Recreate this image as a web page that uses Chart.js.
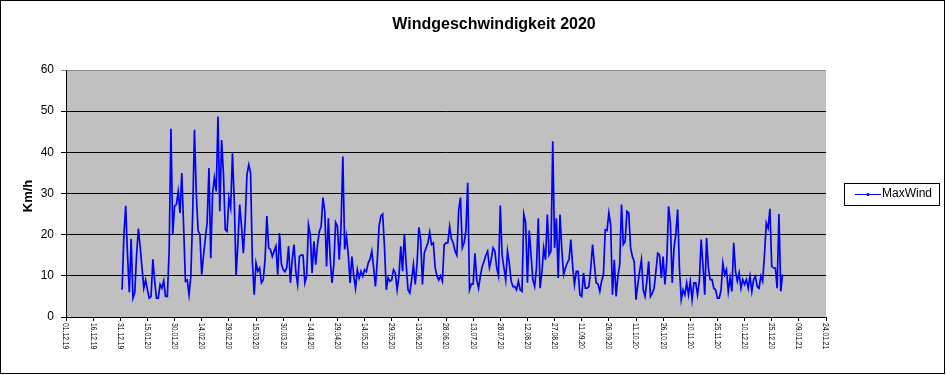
<!DOCTYPE html>
<html>
<head>
<meta charset="utf-8">
<title>Windgeschwindigkeit 2020</title>
<script src="https://cdn.jsdelivr.net/npm/chart.js@4/dist/chart.umd.min.js"></script>
<style>
  html, body { margin: 0; padding: 0; background: #fff; }
  #wrap { width: 946px; height: 375px; }
</style>
</head>
<body>
<div id="wrap"><canvas id="grafico" width="946" height="375"></canvas></div>
<script>
const TITEL = "Windgeschwindigkeit 2020";
const SERIE = "MaxWind";
const Y_TITEL = "Km/h";

// x-Achse: Tage seit 01.12.19, alle 15 Tage ein Strich
const TICK_LABELS = [
  "01.12.19", "16.12.19", "31.12.19", "15.01.20", "30.01.20", "14.02.20",
  "29.02.20", "15.03.20", "30.03.20", "14.04.20", "29.04.20", "14.05.20",
  "29.05.20", "13.06.20", "28.06.20", "13.07.20", "28.07.20", "12.08.20",
  "27.08.20", "11.09.20", "26.09.20", "11.10.20", "26.10.20", "10.11.20",
  "25.11.20", "10.12.20", "25.12.20", "09.01.21", "24.01.21"
];
const TICK_STEP = 15;
const ERSTER_TAG = 31; // 01.01.20

const Y_MIN = 0;
const Y_MAX = 60;
const Y_STEP = 10;

// Tagesmaximum Wind 2020 (km/h), 01.01. bis 31.12.
const MAX_WIND = [
  6.6, 20, 27, 15, 6, 19, 4.6, 6, 15, 21.5,
  17, 12, 7, 9, 6.6, 4.6, 5, 14, 8.7, 4.6,
  4.6, 7.9, 7, 8.8, 5, 5, 16, 45.7, 20, 27,
  27.3, 30.5, 25.3, 35, 22, 8.7, 9, 5.4, 10, 25,
  45.5, 30, 21, 20, 10.3, 15, 19, 23, 36.2, 14.3,
  30, 33.8, 30.5, 48.7, 25.7, 43, 35, 21.2, 20.8, 28.9,
  26.5, 39.8, 28, 10, 18, 27.3, 22, 15.5, 23, 34.6,
  37, 35, 13.5, 5.4, 13.1, 11.1, 11.9, 8.3, 9, 14,
  24.5, 16.8, 16.4, 14.7, 16, 17.2, 10.3, 20.4, 13, 11.5,
  11, 12, 17.2, 8.3, 14, 17.6, 11, 7.9, 14.7, 15.1,
  15, 8.3, 10, 22.4, 20, 10.7, 18.4, 12.7, 17.6, 20.8,
  22, 29, 25.7, 12.3, 24, 14.3, 8.3, 12.7, 23, 22,
  13.9, 22, 39, 16.4, 19.6, 15.1, 8.3, 14.7, 10, 7,
  11.5, 9.5, 11.1, 9.9, 11.5, 11, 13.1, 14, 16, 12,
  7.4, 13.5, 22, 24.5, 25, 17, 6.6, 9.5, 8.7, 9,
  11.5, 10.7, 6.6, 10, 17.2, 11.1, 20.2, 12.7, 6.6, 5.8,
  9, 12.7, 7.9, 13, 21.8, 18.8, 7.9, 15.5, 16.8, 18,
  20.6, 17.6, 18, 12, 9.9, 9, 10, 8.7, 17.6, 18,
  18, 22, 19, 18, 16, 15, 26, 29, 16.8, 18,
  21, 32.6, 6.6, 8, 8, 15.5, 9, 7, 10, 12.3,
  13.5, 15, 16, 12, 14, 16.8, 16, 12, 10, 27.1,
  15, 12, 9, 16, 13, 8.7, 7.4, 7.4, 6.6, 8.7,
  6.6, 6.2, 25, 23, 8.3, 21, 15, 9, 7.4, 12,
  24, 7, 11, 16.8, 13.9, 24.9, 15.1, 16, 42.7, 16.8,
  24, 9.5, 24.9, 16.4, 10.3, 11.9, 13.1, 14, 18.8, 12.3,
  7.9, 11.1, 11.1, 5.4, 5, 10.7, 7, 7, 7.4, 11.9,
  17.6, 12.7, 8.3, 8, 6.2, 8.7, 10.3, 21.2, 21, 25.3,
  22.4, 5.4, 13.9, 5, 9.9, 12.7, 27.3, 17.6, 18.4, 25.7,
  25.3, 16.8, 14.7, 13.5, 4.2, 8, 11.1, 13.9, 6.6, 5,
  8.7, 13.5, 5, 5.8, 7, 11.1, 15.5, 15.1, 9.5, 14.7,
  7.9, 13.5, 26.9, 22.8, 8.3, 16.8, 20, 26.1, 11.9, 4.2,
  6.6, 5.4, 8.3, 5.4, 8.7, 4.2, 8.3, 8.3, 5.4, 8.7,
  18.8, 12.7, 5.4, 19.2, 11.9, 9.1, 9.1, 7, 6.6, 4.6,
  4.6, 6.5, 13.1, 10.3, 11.5, 6.2, 9.5, 6.2, 18, 11.1,
  8.7, 10.7, 7, 9.1, 7.9, 9.1, 7, 9.9, 6.2, 9.1,
  9.9, 7.4, 7, 9.9, 8.7, 15.1, 22.8, 21.6, 26.3, 12.3,
  11.9, 11.9, 7, 25, 6.2, 10.3
];

const FONT = "Arial, 'Liberation Sans', sans-serif";
const BLAU = "#0000ff";

const punkte = MAX_WIND.map((v, i) => ({ x: ERSTER_TAG + i, y: v }));

// Hintergrund, Titel, gedrehte Datumsbeschriftung, Legende, Rahmen
const excelLook = {
  id: "excelLook",
  beforeDraw(chart) {
    const { ctx, chartArea: a } = chart;
    ctx.save();
    ctx.fillStyle = "#fff";
    ctx.fillRect(0, 0, chart.width, chart.height);
    ctx.fillStyle = "#c0c0c0";
    ctx.fillRect(a.left, a.top, a.right - a.left, a.bottom - a.top);
    ctx.restore();
  },
  afterDraw(chart) {
    const { ctx, chartArea: a } = chart;
    const xs = chart.scales.x;
    ctx.save();
    ctx.fillStyle = "#000";

    // Titel
    ctx.font = "bold 16px " + FONT;
    ctx.textAlign = "center";
    ctx.textBaseline = "middle";
    ctx.fillText(TITEL, 494, 25);

    // y-Achsentitel
    ctx.save();
    ctx.translate(28, 196);
    ctx.rotate(-Math.PI / 2);
    ctx.font = "bold 13px " + FONT;
    ctx.fillText(Y_TITEL, 0, 0);
    ctx.restore();

    // Datumsbeschriftung, von oben nach unten lesbar
    ctx.font = "9.5px " + FONT;
    ctx.textAlign = "left";
    ctx.textBaseline = "middle";
    xs.ticks.forEach((t, i) => {
      const px = xs.getPixelForTick(i);
      ctx.save();
      ctx.translate(px, a.bottom + 6);
      ctx.rotate(Math.PI / 2);
      ctx.scale(0.71, 1);
      ctx.fillText(TICK_LABELS[i], 0, 0);
      ctx.restore();
    });

    // Legende
    const ds = chart.data.datasets[0];
    ctx.fillStyle = "#fff";
    ctx.fillRect(845, 184, 94, 21);
    ctx.strokeStyle = "#000";
    ctx.lineWidth = 1;
    ctx.strokeRect(844.5, 183.5, 95, 22);
    ctx.strokeStyle = ds.borderColor;
    ctx.beginPath();
    ctx.moveTo(855, 194.5);
    ctx.lineTo(881, 194.5);
    ctx.stroke();
    ctx.fillStyle = ds.borderColor;
    ctx.beginPath();
    ctx.arc(868, 194.5, 1.5, 0, Math.PI * 2);
    ctx.fill();
    ctx.fillStyle = "#000";
    ctx.font = "12px " + FONT;
    ctx.textAlign = "left";
    ctx.fillText(ds.label, 882, 194);

    // Rahmen
    ctx.strokeStyle = "#000";
    ctx.strokeRect(0.5, 0.5, chart.width - 2, chart.height - 2);
    ctx.restore();
  }
};

new Chart(document.getElementById("grafico"), {
  type: "line",
  data: {
    datasets: [
      {
        label: SERIE,
        data: punkte,
        borderColor: BLAU,
        backgroundColor: BLAU,
        borderWidth: 1.7,
        pointRadius: 0,
        tension: 0,
        fill: false,
      },
    ],
  },
  options: {
    responsive: false,
    animation: false,
    devicePixelRatio: 1,
    layout: { padding: { top: 70, right: 120, bottom: 0, left: 0 } },
    plugins: {
      legend: { display: false },
      title: { display: false },
      tooltip: { enabled: false },
    },
    scales: {
      x: {
        type: "linear",
        min: 0,
        max: (TICK_LABELS.length - 1) * TICK_STEP,
        ticks: { display: false, stepSize: TICK_STEP },
        grid: { drawOnChartArea: false, drawTicks: true, tickLength: 4, color: "#000" },
        border: { display: true, color: "#000", width: 1 },
        afterFit: (s) => { s.height = 58; },
      },
      y: {
        min: Y_MIN,
        max: Y_MAX,
        ticks: {
          stepSize: Y_STEP,
          color: "#000",
          padding: 7,
          font: { family: FONT, size: 12 },
        },
        grid: {
          color: (c) => (c.tick && c.tick.value === Y_MAX ? "#8a8a8a" : "#000"),
          lineWidth: 1,
          drawTicks: true,
          tickLength: 5,
        },
        border: { display: true, color: "#000", width: 1 },
        afterFit: (s) => { s.width = 66; },
      },
    },
  },
  plugins: [excelLook],
});
</script>
</body>
</html>
